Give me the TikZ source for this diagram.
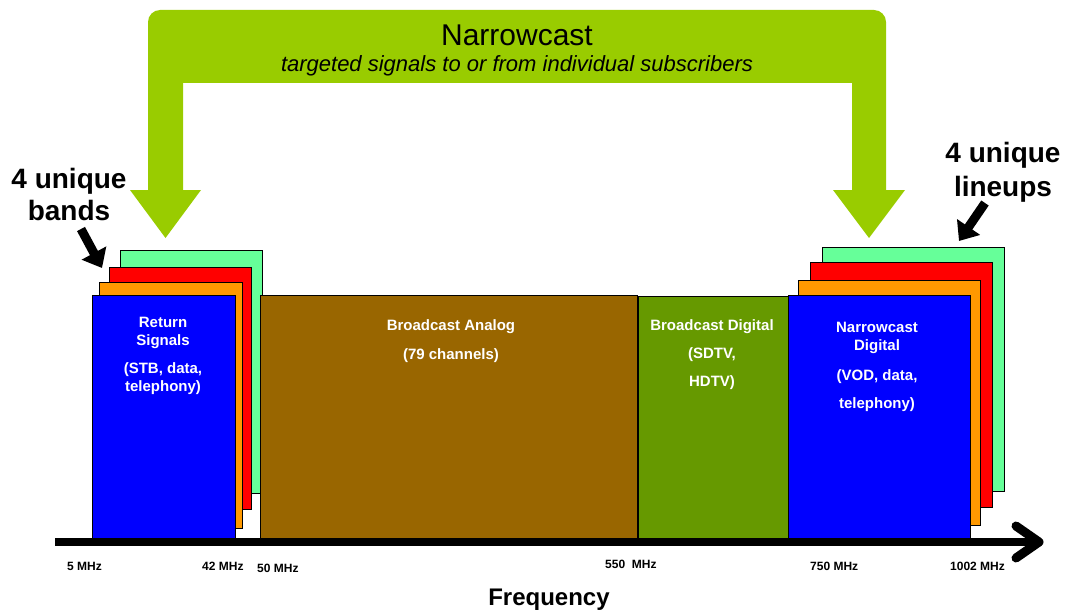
\documentclass[tikz,border=0pt]{standalone}
\usepackage{fontspec}
\setmainfont{Liberation Sans}
\usetikzlibrary{arrows.meta}
\definecolor{archgreen}{RGB}{153,204,0}
\definecolor{lgreen}{RGB}{102,255,153}
\definecolor{bred}{RGB}{255,0,0}
\definecolor{borange}{RGB}{255,153,0}
\definecolor{bblue}{RGB}{0,0,255}
\definecolor{bbrown}{RGB}{153,102,0}
\definecolor{dgreen}{RGB}{102,153,0}
\newcommand{\toplines}[1]{\begin{tabular}[t]{@{}c@{}}#1\end{tabular}}
\tikzset{
  bandbox/.style={draw=black, line width=0.8pt, inner sep=0pt, outer sep=0pt, anchor=north west},
  bandtext/.style={text=white, font=\bfseries\fontsize{15}{18}\selectfont, anchor=base, inner sep=0pt},
  freqlabel/.style={font=\bfseries\fontsize{12}{14}\selectfont, anchor=base west, inner sep=0pt},
  bigbold/.style={font=\bfseries\fontsize{28}{32}\selectfont, anchor=base, inner sep=0pt},
  blkarrow/.style={line width=9pt, -{Triangle[length=17pt,width=27pt]}},
  axisline/.style={line width=8pt},
  chev/.style={line width=9pt, line cap=round, line join=round},
}
\begin{document}
\begin{tikzpicture}[x=1pt,y=-1pt]
\useasboundingbox (0,0) rectangle (1077,610);
% green narrowcast arch
\fill[archgreen] (148,190) -- (148,22) arc[start angle=180,end angle=90,radius=12pt]
  -- (874,10) arc[start angle=90,end angle=0,radius=12pt]
  -- (886,190) -- (905,190) -- (869,238) -- (833,190) -- (852,190)
  -- (852,83) -- (183,83) -- (183,190) -- (201,190) -- (165.5,238) -- (130,190) -- cycle;
\node[font=\fontsize{30}{34}\selectfont, anchor=base, inner sep=0pt] (title) at (517,46) {Narrowcast};
\node[font=\itshape\fontsize{22}{26}\selectfont, anchor=base, inner sep=0pt] (subtitle) at (517,72) {targeted signals to or from individual subscribers};
% left stack
\node[bandbox, fill=lgreen, minimum width=142pt, minimum height=243pt] (lg) at (120,250) {};
\node[bandbox, fill=bred, minimum width=142pt, minimum height=242pt] (lr) at (109,267) {};
\node[bandbox, fill=borange, minimum width=143pt, minimum height=246pt] (lo) at (99,282) {};
\node[bandbox, fill=bblue, minimum width=143pt, minimum height=244pt] (lb) at (92,295) {};
% middle
\node[bandbox, fill=bbrown, minimum width=377pt, minimum height=244pt] (ba) at (260,295) {};
\node[bandbox, fill=dgreen, minimum width=150pt, minimum height=243pt] (bd) at (638,296) {};
% right stack
\node[bandbox, fill=lgreen, minimum width=182pt, minimum height=244pt] (rg) at (822,247) {};
\node[bandbox, fill=bred, minimum width=182pt, minimum height=245pt] (rr) at (810,262) {};
\node[bandbox, fill=borange, minimum width=182pt, minimum height=245pt] (ro) at (798,280) {};
\node[bandbox, fill=bblue, minimum width=182pt, minimum height=244pt] (rb) at (788,295) {};
% texts in bands
\node[bandtext] (t1) at (163,327.5) {\toplines{Return\\Signals\\[10pt](STB, data,\\telephony)}};
\node[bandtext] (t2) at (451,330.5) {\toplines{Broadcast Analog\\[11pt](79 channels)}};
\node[bandtext] (t3) at (712,330.5) {\toplines{Broadcast Digital\\[10pt](SDTV,\\[10pt]HDTV)}};
\node[bandtext] (t4) at (877,332.5) {\toplines{Narrowcast\\Digital\\[12pt](VOD, data,\\[10pt]telephony)}};
% side labels
\node[bigbold] (lbl1) at (69,188) {\toplines{4 unique\\bands}};
\node[bigbold, font=\bfseries\fontsize{28}{34}\selectfont] (lbl2) at (1003,162) {\toplines{4 unique\\lineups}};
\coordinate (la0) at (81,229);
\coordinate (la1) at (102,268);
\coordinate (ra0) at (985,203);
\coordinate (ra1) at (959,241);
\draw[blkarrow] (la0) -- (la1);
\draw[blkarrow] (ra0) -- (ra1);
% axis
\coordinate (ax0) at (55,542);
\coordinate (ax1) at (1039,542);
\draw[axisline] (ax0) -- ([xshift=-4pt]ax1);
\draw[chev] ([shift={(-23,-16)}]ax1) -- (ax1) -- ([shift={(-23,16)}]ax1);
% frequency labels
\node[freqlabel] (f5) at (67,570) {5 MHz};
\node[freqlabel] (f42) at (202,570) {42 MHz};
\node[freqlabel] (f50) at (257,572) {50 MHz};
\node[freqlabel] (f550) at (605,568) {550\ \ MHz};
\node[freqlabel] (f750) at (810,570) {750 MHz};
\node[freqlabel] (f1002) at (950,570) {1002 MHz};
\node[font=\bfseries\fontsize{24}{28}\selectfont, anchor=base, inner sep=0pt] (freq) at (549,605) {Frequency};
\end{tikzpicture}
\end{document}
